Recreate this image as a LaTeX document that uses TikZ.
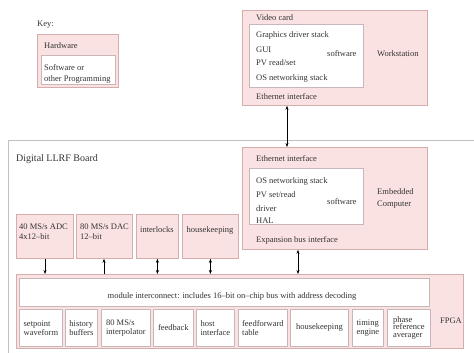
\documentclass[tikz,border=0pt]{standalone}
\usepackage{fontspec}
\setmainfont{Liberation Serif}
\usetikzlibrary{arrows.meta}
\definecolor{hwfill}{HTML}{FBE2E2}
\definecolor{hwline}{HTML}{D5ADAD}
\definecolor{swline}{HTML}{C9B6B6}
\definecolor{bdline}{HTML}{C0C0C0}
\definecolor{txt}{HTML}{333333}
\tikzset{
  hw/.style={draw=hwline, fill=hwfill, line width=0.8pt, inner sep=0pt, anchor=north west},
  sw/.style={draw=swline, fill=white, line width=0.8pt, inner sep=0pt, anchor=north west},
  board/.style={draw=bdline, line width=0.8pt, inner sep=0pt, anchor=north west},
  lbl/.style={font=\fontsize{8.5}{9}\selectfont, text=txt, inner sep=0pt, anchor=west},
  mod/.style={sw, font=\fontsize{8.5}{9}\selectfont, text=txt, align=left},
  arr/.style={line width=0.5pt, -{Stealth[length=4pt,width=3pt]}},
  darr/.style={line width=0.5pt, {Stealth[length=4pt,width=3pt]}-{Stealth[length=4pt,width=3pt]}}
}
\newcommand{\boxat}[6]{\node[#1, minimum width=#4-#2, minimum height=#5-#3] (#6) at (#2,#3) {};}
\begin{document}
\begin{tikzpicture}[x=1pt,y=-1pt]
\useasboundingbox (0,0) rectangle (474,353);
\begin{scope}
\clip (0,0) rectangle (474,353);
% key
\node[lbl] (keyt) at (37,25) {Key:};
\boxat{hw}{37}{34}{118}{87}{keyhw}
\boxat{sw}{41}{55}{115}{84}{keysw}
\node[lbl] (keyhwt) at (44,46) {Hardware};
\node[lbl] (keyswt1) at (44,68) {Software or};
\node[lbl] (keyswt2) at (44,79) {other Programming};
% workstation
\boxat{hw}{242}{10}{427}{105}{ws}
\boxat{sw}{249}{24}{363}{87}{wssw}
\node[lbl] (wst1) at (256,18) {Video card};
\node[lbl] (wst2) at (256,35) {Graphics driver stack};
\node[lbl] (wst3) at (256,50) {GUI};
\node[lbl] (wst4) at (256,63) {PV read/set};
\node[lbl] (wst5) at (256,78) {OS networking stack};
\node[lbl] (wst6) at (327,54) {software};
\node[lbl] (wst7) at (377,54) {Workstation};
\node[lbl] (wst8) at (256,97) {Ethernet interface};
% board
\boxat{board}{8}{140}{500}{380}{brd}
\node[lbl, font=\fontsize{10}{11}\selectfont] (brdt) at (16,159) {Digital LLRF Board};
% embedded computer
\boxat{hw}{242}{147}{427}{249}{emb}
\boxat{sw}{249}{168}{363}{224}{embsw}
\node[lbl] (embt1) at (256,159) {Ethernet interface};
\node[lbl] (embt2) at (256,181) {OS networking stack};
\node[lbl] (embt3) at (256,195) {PV set/read};
\node[lbl] (embt4) at (256,209) {driver};
\node[lbl] (embt5) at (256,221) {HAL};
\node[lbl] (embt6) at (327,202) {software};
\node[lbl] (embt7) at (377,192) {Embedded};
\node[lbl] (embt8) at (377,205) {Computer};
\node[lbl] (embt9) at (256,240) {Expansion bus interface};
% peripherals
\boxat{hw}{16}{214}{73}{258}{adc}
\boxat{hw}{76}{214}{132}{258}{dac}
\boxat{hw}{136}{214}{178}{258}{intl}
\boxat{hw}{182}{214}{238}{258}{hk}
\node[lbl] (adct1) at (19,227) {40 MS/s ADC};
\node[lbl] (adct2) at (19,237) {4x12–bit};
\node[lbl] (dact1) at (80,227) {80 MS/s DAC};
\node[lbl] (dact2) at (80,237) {12–bit};
\node[lbl, anchor=center] (intlt) at (157,230) {interlocks};
\node[lbl, anchor=center] (hkt) at (210,230) {housekeeping};
% FPGA
\boxat{hw}{16}{274}{463}{348}{fpga}
\boxat{sw}{19}{278}{429}{306}{bus}
\node[lbl, anchor=center] (bust) at (232,296) {module interconnect: includes 16–bit on–chip bus with address decoding};
\node[lbl, anchor=center] (fpgat) at (451,321) {FPGA};
\node[mod, minimum width=43, minimum height=37] (m1) at (19,309) {setpoint\\waveform};
\node[mod, minimum width=32, minimum height=37] (m2) at (65,309) {history\\buffers};
\node[mod, minimum width=49, minimum height=37] (m3) at (101,309) {80 MS/s\\interpolator};
\node[mod, minimum width=40, minimum height=37] (m4) at (153,309) {feedback};
\node[mod, minimum width=38, minimum height=37] (m5) at (196,309) {host\\interface};
\node[mod, minimum width=49, minimum height=37] (m6) at (238,309) {feedforward\\table};
\node[mod, minimum width=58, minimum height=37] (m7) at (290,309) {housekeeping};
\node[mod, minimum width=31, minimum height=37] (m8) at (352,309) {timing\\engine};
\node[mod, minimum width=43, minimum height=37, font=\fontsize{8.5}{7.8}\selectfont] (m9) at (387,309) {phase\\reference\\averager};
\end{scope}
% connectors
\draw[darr] ([xshift=45]ws.south west) -- ([xshift=45]emb.north west);
\draw[arr] ([xshift=29]adc.south west) -- ([xshift=29]adc.south west |- fpga.north);
\draw[arr] ([xshift=28]dac.south west |- fpga.north) -- ([xshift=28]dac.south west);
\draw[darr] (intl.south) -- (intl.south |- fpga.north);
\draw[darr] (hk.south) -- (hk.south |- fpga.north);
\draw[darr] ([xshift=56]emb.south west) -- ([xshift=56]emb.south west |- fpga.north);
\end{tikzpicture}
\end{document}
